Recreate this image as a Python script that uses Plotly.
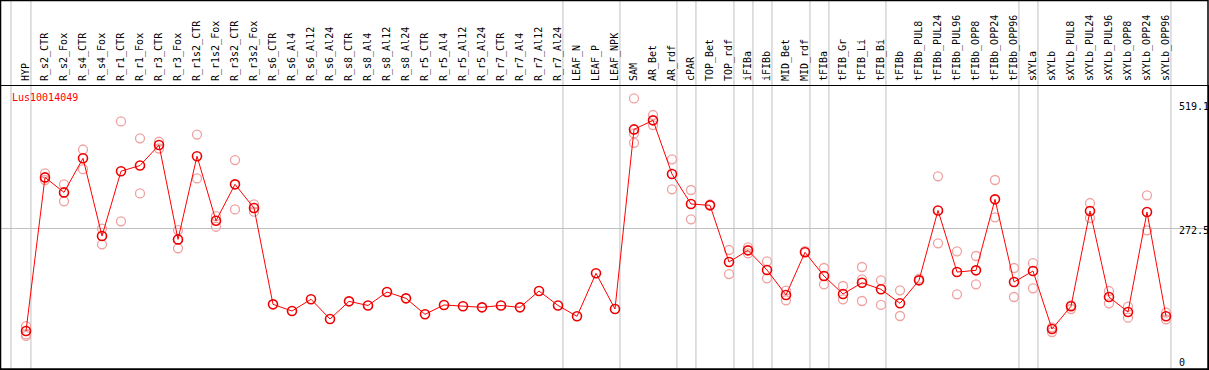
import plotly.graph_objects as go

categories = ["HYP", "R_s2_CTR", "R_s2_Fox", "R_s4_CTR", "R_s4_Fox", "R_r1_CTR", "R_r1_Fox",
              "R_r3_CTR", "R_r3_Fox", "R_r1s2_CTR", "R_r1s2_Fox", "R_r3s2_CTR", "R_r3s2_Fox",
              "R_s6_CTR", "R_s6_Al4", "R_s6_Al12", "R_s6_Al24", "R_s8_CTR", "R_s8_Al4", "R_s8_Al12",
              "R_s8_Al24", "R_r5_CTR", "R_r5_Al4", "R_r5_Al12", "R_r5_Al24", "R_r7_CTR", "R_r7_Al4",
              "R_r7_Al12", "R_r7_Al24", "LEAF_N", "LEAF_P", "LEAF_NPK", "SAM", "AR_Bet", "AR_rdf",
              "cPAR", "TOP_Bet", "TOP_rdf", "iFIBa", "iFIBb", "MID_Bet", "MID_rdf", "tFIBa",
              "tFIB_Gr", "tFIB_Li", "tFIB_Bi", "tFIBb", "tFIBb_PUL8", "tFIBb_PUL24", "tFIBb_PUL96",
              "tFIBb_OPP8", "tFIBb_OPP24", "tFIBb_OPP96", "sXYLa", "sXYLb", "sXYLb_PUL8",
              "sXYLb_PUL24", "sXYLb_PUL96", "sXYLb_OPP8", "sXYLb_OPP24", "sXYLb_OPP96"]

mean_values = [73.6, 371, 342, 408, 257.5, 383, 394, 433.7, 251, 412, 287, 357.6, 311.7,
               125.2, 112.3, 135, 96.8, 131, 123, 149, 136.8, 105.9, 124, 121.4, 119.4, 123, 119.4,
               151, 123, 102, 185.3, 116.2, 464, 481.5, 377.5, 319.5, 316.9, 207.2, 229.8, 191.7,
               143.3, 226, 180, 145.2, 167, 154.3, 127.2, 171.7, 307, 187.8, 191, 328.5, 168.4,
               189.7, 77.4, 121.4, 305.9, 139.4, 110.4, 304, 102]

N = None
rep_a = [83, 379, 357.6, 425, 272, 479.5, 446.6, 440, 269, 454, 296, 404.6, 318.8,
         N, N, N, N, N, N, N, N, N, N, N, N, N, N, N, N, N, N, N,
         524, 491.8, 406, 346.6, 318.5, 230.4, 235.6, 208.5, 151.6, 228, 195.6, 160.7, 197.5, 171.7,
         152.4, 175, 373, 227.8, 218.8, 366, 195.6, 205.2, 71.6, 116.2, 321.4, 151, 120.6, 336.3, 109]
rep_b = [67, 366, 324.7, 387, 241.4, 286, 340, 427, 233.7, 369, 275.5, 309, 304.6,
         N, N, N, N, N, N, N, N, N, N, N, N, N, N, N, N, N, N, N,
         438, 472.4, 348, 289.8, N, 183.9, 224, 175.6, 133, N, 164, 135, 173.7, 124,
         102.6, N, 243.4, 144.6, 164, 293.7, 139.4, 156.2, 80.7, 123, 292.4, 127.2, 99.3, 268.5, 96.2]
rep_c = [64, N, N, N, N, N, N, N, N, N, N, N, N,
         N, N, N, N, N, N, N, N, N, N, N, N, N, N, N, N, N, N, N,
         456, N, N, N, N, N, N, N, N, N, N, N, 131.7, N,
         N, N, N, N, N, N, N, N, N, N, N, N, N, N, N]

# group boundaries (drawn after these category indices)
group_ends = [0, 28, 31, 34, 35, 37, 38, 39, 41, 42, 45, 52, 53, 60]
y_tick_labels = ["519.1", "272.5", "0"]
y_tick_values = [519.1, 272.5, 0]
gene_name = "Lus10014049"

x_idx = list(range(len(categories)))
FONT = "DejaVu Sans Mono"

fig = go.Figure()
rep_color = "#f0a0a0"
for reps in (rep_a, rep_b, rep_c):
    xs = [i for i, v in zip(x_idx, reps) if v is not None]
    ys = [v for v in reps if v is not None]
    fig.add_trace(go.Scatter(x=xs, y=ys, mode="markers",
                             marker=dict(symbol="circle-open", size=9, color=rep_color,
                                         line=dict(width=1.3, color=rep_color)),
                             showlegend=False, hoverinfo="skip"))

fig.add_trace(go.Scatter(x=x_idx, y=mean_values, mode="lines+markers",
                         line=dict(color="#ff0000", width=1),
                         marker=dict(symbol="circle-open", size=9, color="#ee0000",
                                     line=dict(width=1.6, color="#ee0000")),
                         showlegend=False))

shapes = []
top_paper = 1 + 85.5 / 283
for g in group_ends:
    shapes.append(dict(type="line", xref="x", yref="paper", x0=g + 0.26, x1=g + 0.26,
                       y0=0, y1=top_paper, line=dict(color="#c0c0c0", width=1), layer="below"))
shapes.append(dict(type="line", xref="x", yref="paper", x0=-0.79, x1=-0.79,
                   y0=0, y1=top_paper, line=dict(color="#c0c0c0", width=1), layer="below"))
shapes.append(dict(type="rect", xref="paper", yref="paper", x0=-0.0004, x1=1, y0=0, y1=top_paper,
                   line=dict(color="black", width=1.5), fillcolor="rgba(0,0,0,0)"))

annotations = [dict(text=gene_name, xref="paper", yref="paper", x=(10 - 1) / 1207, y=(369 - 97) / 283,
                    xanchor="left", yanchor="middle", showarrow=False,
                    font=dict(family=FONT, size=10, color="#ff0000"))]
label_pix = {"519.1": 106.7, "272.5": 230.7, "0": 362.3}
for t in y_tick_labels:
    annotations.append(dict(text=t, xref="paper", yref="paper", x=(1177 - 1) / 1207,
                            y=(369 - label_pix[t]) / 283, xanchor="left", yanchor="middle",
                            showarrow=False, font=dict(family=FONT, size=10, color="black")))

fig.update_layout(
    width=1209, height=370,
    margin=dict(l=1, r=1, t=86, b=1, autoexpand=False),
    paper_bgcolor="white", plot_bgcolor="white",
    shapes=shapes, annotations=annotations,
    xaxis=dict(range=[-25 / 19, -25 / 19 + 1207 / 19], side="top", tickmode="array",
               tickvals=x_idx, ticktext=categories, tickangle=-90, showgrid=False,
               zeroline=False, ticks="", ticklabelstandoff=2, automargin=False,
               tickfont=dict(family=FONT, size=10, color="black"),
               showline=True, mirror=True, linecolor="black", linewidth=1),
    yaxis=dict(range=[0, 548], tickmode="array", tickvals=[272.5], showticklabels=False,
               showgrid=True, gridcolor="#c0c0c0", gridwidth=1, zeroline=False, ticks="",
               automargin=False,
               showline=True, mirror=True, linecolor="black", linewidth=1),
)

fig.write_html("out.html", config={"displayModeBar": False},
               post_script="document.body.style.margin='0';")
